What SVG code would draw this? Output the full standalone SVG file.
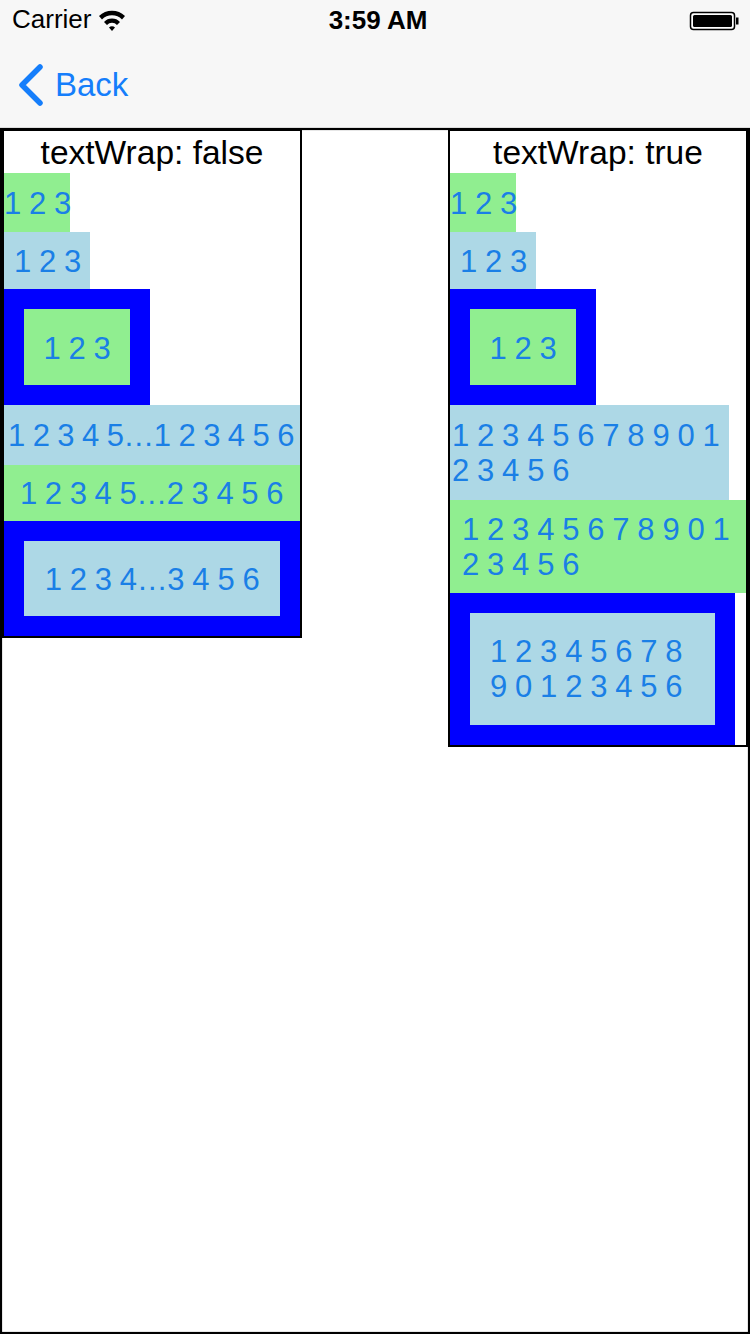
<svg xmlns="http://www.w3.org/2000/svg" width="750" height="1334" viewBox="0 0 750 1334">
<style>
.t{font-family:"Liberation Sans",Arial,sans-serif;font-size:31px;letter-spacing:-0.4px;fill:#1A7FE6}
.h{font-family:"Liberation Sans",Arial,sans-serif;font-size:33.5px;fill:#000;text-anchor:middle}
.g{fill:#90EE90}
.lb{fill:#ADD8E6}
.b{fill:#0000FF}
.panel{fill:none;stroke:#000;stroke-width:2}
</style>
<rect x="0" y="0" width="750" height="1334" fill="#fff"/>
<g id="statusbar">
<rect x="0" y="0" width="750" height="128" fill="#F7F7F7"/>
<text x="12" y="28" font-family="Liberation Sans,Arial,sans-serif" font-size="26" fill="#000">Carrier</text>
<path d="M99 16 A19 19 0 0 1 125 16 L122 19.5 A14 14 0 0 0 102 19.5 Z M104 22 A11 11 0 0 1 120 22 L117 25 A6.5 6.5 0 0 0 107 25 Z M109 27.5 A4 4 0 0 1 115 27.5 L112 31 Z" fill="#000"/>
<text x="378" y="29" font-family="Liberation Sans,Arial,sans-serif" font-size="26" font-weight="bold" fill="#000" text-anchor="middle">3:59 AM</text>
<rect x="690.5" y="12.5" width="44" height="17" rx="3" fill="#fff" stroke="#000" stroke-width="1.5"/>
<rect x="693" y="15" width="39" height="12" rx="1.5" fill="#000"/>
<rect x="736" y="17.5" width="2.5" height="7" fill="#000"/>
</g>
<g id="navbar">
<path d="M40 67 L22 85 L40 103" fill="none" stroke="#157EFB" stroke-width="5.5" stroke-linecap="round" stroke-linejoin="round"/>
<text x="55" y="96" font-family="Liberation Sans,Arial,sans-serif" font-size="33" fill="#157EFB">Back</text>
</g>
<rect id="page" x="1" y="129" width="748" height="1204" fill="none" stroke="#000" stroke-width="2.2"/>
<g id="left-panel">
<rect x="3" y="130" width="298" height="507" class="panel"/>
<text class="h" x="152" y="164">textWrap: false</text>
<g id="l1"><rect x="4" y="173" width="66" height="59" class="g"/><text class="t" x="4" y="214">1 2 3</text></g>
<g id="l2"><rect x="4" y="232" width="86" height="57" class="lb"/><text class="t" x="14" y="272">1 2 3</text></g>
<g id="l3"><rect x="4" y="289" width="146" height="116" class="b"/><rect x="24" y="309" width="106" height="76" class="g"/><text class="t" x="77" y="359" text-anchor="middle">1 2 3</text></g>
<g id="l4"><rect x="4" y="405" width="296" height="60" class="lb"/><text class="t" x="8" y="446" textLength="286" lengthAdjust="spacing">1 2 3 4 5…1 2 3 4 5 6</text></g>
<g id="l5"><rect x="4" y="465" width="296" height="56" class="g"/><text class="t" x="20" y="504" textLength="263" lengthAdjust="spacing">1 2 3 4 5…2 3 4 5 6</text></g>
<g id="l6"><rect x="4" y="521" width="296" height="115" class="b"/><rect x="24" y="541" width="256" height="75" class="lb"/><text class="t" x="152" y="590" text-anchor="middle">1 2 3 4…3 4 5 6</text></g>
</g>
<g id="right-panel">
<rect x="449" y="130" width="298" height="616" class="panel"/>
<text class="h" x="598" y="164">textWrap: true</text>
<g id="r1"><rect x="450" y="173" width="66" height="59" class="g"/><text class="t" x="450" y="214">1 2 3</text></g>
<g id="r2"><rect x="450" y="232" width="86" height="57" class="lb"/><text class="t" x="460" y="272">1 2 3</text></g>
<g id="r3"><rect x="450" y="289" width="146" height="116" class="b"/><rect x="470" y="309" width="106" height="76" class="g"/><text class="t" x="523" y="359" text-anchor="middle">1 2 3</text></g>
<g id="r4"><rect x="450" y="405" width="279" height="95" class="lb"/><text class="t" x="452" y="446">1 2 3 4 5 6 7 8 9 0 1</text><text class="t" x="452" y="481">2 3 4 5 6</text></g>
<g id="r5"><rect x="450" y="500" width="296" height="93" class="g"/><text class="t" x="462" y="540">1 2 3 4 5 6 7 8 9 0 1</text><text class="t" x="462" y="575">2 3 4 5 6</text></g>
<g id="r6"><rect x="450" y="593" width="285" height="152" class="b"/><rect x="470" y="613" width="245" height="112" class="lb"/><text class="t" x="490" y="662">1 2 3 4 5 6 7 8</text><text class="t" x="490" y="697">9 0 1 2 3 4 5 6</text></g>
</g>
<g id="connectors"/>
</svg>
